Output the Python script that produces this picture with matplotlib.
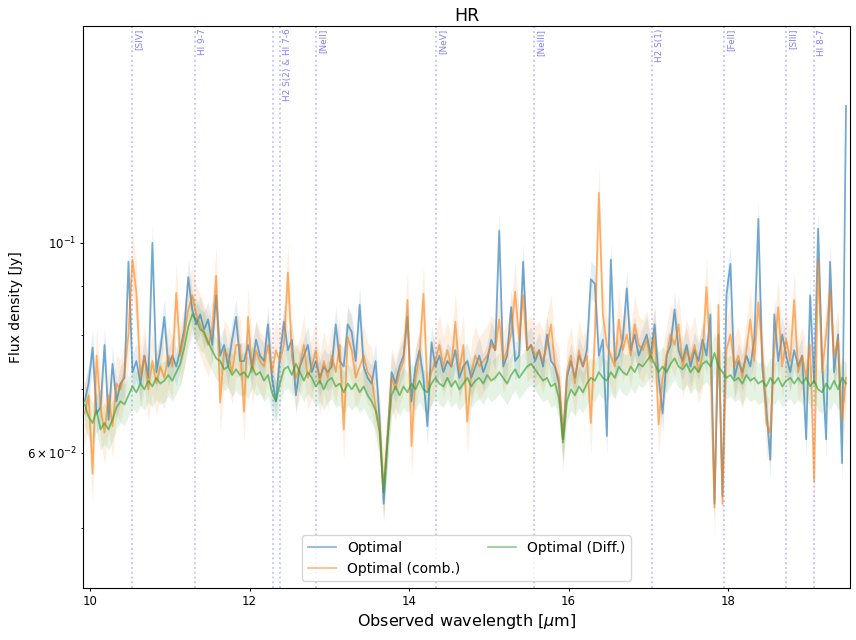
import numpy as np
import matplotlib
matplotlib.use("Agg")
import matplotlib.pyplot as plt

# ---------------- data ----------------
wave_start = 9.93   # micron
wave_step = 0.05
n_pts = 192

# Flux densities in mJy (x1e-3 Jy)
flux_opt = [
    68, 71, 77.5, 66, 67, 78, 65, 74.5, 68, 71, 72, 95.5, 73, 75, 71, 76, 72, 100, 73, 77,
    83.5, 74, 76, 74, 77, 81, 92, 85, 82, 84, 81, 83, 78, 88, 76, 78, 74, 79, 83.5, 75,
    75, 78, 74, 79, 76, 75, 82, 72, 68, 76, 82.5, 77, 79, 69, 74, 76, 78, 73, 75, 72,
    74, 73, 74, 82, 75, 74, 82, 80.5, 75, 86, 74, 72, 71, 75, 65, 53, 62, 73, 71, 74,
    76, 83.5, 68, 74, 77, 72, 64, 78.5, 74, 76, 73, 75, 74, 77, 72, 74, 75, 72, 74, 76,
    73, 75, 79, 77, 103, 74, 76, 85.5, 75, 76, 95.5, 77, 78, 75, 77, 74, 80, 75, 74, 71,
    62, 72, 75, 72, 76, 74, 77, 91.5, 90.5, 76, 79, 62.5, 96, 75, 76, 79, 89.5, 77, 80, 76,
    78, 80, 76, 82, 72, 66, 76, 78, 85, 77, 75, 78, 74, 77, 75, 79, 76, 84, 53, 80,
    54, 88, 95, 72, 75, 73, 76, 74, 79, 106, 74, 67, 59, 84, 75, 80, 76, 73, 77, 74,
    76, 62, 88, 71, 103.5, 75, 62, 95.5, 73, 80, 58.5, 139.5,
]
flux_comb = [
    66, 69, 57, 76, 67, 63, 69, 64, 71, 70, 73, 80, 96, 88.5, 72, 76, 70, 75, 71, 74,
    72, 76, 74, 88.5, 76, 80, 85, 88, 84, 82, 80, 78, 81, 92.3, 67.8, 77, 76, 73, 78, 78,
    66.3, 83.5, 73, 77, 75, 74, 78, 73, 77, 75, 78, 93, 76, 72, 74, 78, 72, 74, 77, 71,
    75, 72, 76, 73, 78, 63.5, 79.5, 77, 72, 74, 76, 73, 72, 67, 64, 55, 63, 72, 70, 73,
    75, 87, 61, 72, 76, 88.3, 70, 73, 75, 78, 74, 77, 74, 82.5, 73, 78, 64.7, 73, 76, 74,
    75, 76, 78, 77, 83, 75, 77, 80, 88.8, 79, 88, 77, 78, 76, 77, 75, 78, 82, 74, 72,
    62, 73, 76, 71, 77, 74, 76, 64.5, 80, 113, 84, 78, 76, 74, 83, 77, 80, 76, 82, 78,
    77, 79, 75, 80, 64.3, 72, 76, 80, 78, 82, 74, 77, 75, 78, 73, 76, 89.8, 75, 52.5, 86,
    53, 77, 80, 74, 76, 72, 77, 83, 75, 86.5, 77, 64.5, 63, 77, 85.5, 74, 79, 75, 87, 73,
    76, 72, 78, 56, 96, 73, 80, 89, 76, 79, 65, 72,
]
flux_diff = [
    67.5, 65.5, 64.5, 66.5, 63.5, 64.5, 63.5, 65, 67, 68, 67.5, 69, 70.5, 69.5, 71, 70, 71.5, 70.5, 72, 71,
    71.5, 72.5, 71.5, 73, 74.5, 77.5, 81.5, 84, 83, 81, 80.5, 78.5, 77, 75.5, 75, 73.5, 74, 72.5, 73.5, 72.5,
    73, 72, 74, 72.5, 73, 71.5, 72.5, 69.5, 68, 71, 73.5, 74, 72.5, 74.5, 73, 71.5, 73, 72, 70.5, 71.5,
    70, 71.5, 72, 70.5, 71, 69.5, 71, 70, 71, 69.5, 70.5, 69, 68, 66.5, 63, 54.5, 62, 69, 70.5, 69,
    70.5, 69.5, 71, 70, 71.5, 70, 69.5, 71, 72, 71, 70.5, 72, 70.5, 71.5, 70, 71, 72, 70.5, 71.5, 72,
    71, 72.5, 71.5, 72, 73, 72, 71, 72.5, 73.5, 72, 73, 74, 74.5, 73.5, 72.5, 71.5, 72, 70.5, 71, 68.5,
    61.5, 68, 70, 69, 70.5, 69.5, 71, 72, 71.5, 73, 72, 71.5, 73, 72, 74, 73, 72.5, 74, 73, 74.5,
    74, 75, 76, 74.5, 73, 74, 73, 74.5, 75.5, 74, 73.5, 74.5, 73, 74, 73, 74.5, 75, 74, 76.5, 74,
    73, 72, 72.5, 71.5, 72, 71, 72.5, 71.5, 72, 71, 71.5, 70.5, 72, 71, 72, 70.5, 71.5, 72, 71, 72,
    71, 72, 70.5, 71.5, 70, 69.5, 71, 70, 71.5, 70, 72, 71,
]
# relative 1-sigma uncertainties
err_frac_opt = 0.045
err_frac_comb = 0.075
err_frac_diff = 0.05

series_labels = ["Optimal", "Optimal (comb.)", "Optimal (Diff.)"]
series_colors = ["C0", "C1", "C2"]

line_names = ["[SIV]", "HI 9-7", "", "H2 S(2) & HI 7-6", "[NeII]", "[NeV]",
              "[NeIII]", "H2 S(1)", "[FeII]", "[SIII]", "HI 8-7"]
line_rest = [10.511, 11.309, 12.279, 12.372, 12.814, 14.322,
             15.555, 17.035, 17.936, 18.713, 19.062]
redshift = 0.001

title = "HR"
xlabel = r"Observed wavelength [$\mu$m]"
ylabel = "Flux density [Jy]"

# ---------------- plot ----------------
wave = wave_start + wave_step * np.arange(n_pts)

fig = plt.figure(figsize=(8.56, 6.4), dpi=100)
ax = fig.add_axes([83 / 856, 1 - 588 / 640, (850 - 83) / 856, (588 - 26) / 640])

all_series = [
    (np.array(flux_opt) * 1e-3, err_frac_opt),
    (np.array(flux_comb) * 1e-3, err_frac_comb),
    (np.array(flux_diff) * 1e-3, err_frac_diff),
]
for k, ((f, ef), lab, col) in enumerate(zip(all_series, series_labels, series_colors)):
    e = f * ef
    ax.fill_between(wave, f - e, f + e, color=col, alpha=0.12, lw=0, zorder=1 + k)
    ax.plot(wave, f, color=col, alpha=0.6, lw=1.3, label=lab, zorder=4 + k)

ax.set_yscale("log")
ax.set_xlim(9.91, 19.53)
ax.set_ylim(0.04317, 0.1695)

for name, lam in zip(line_names, line_rest):
    lo = lam * (1 + redshift)
    ax.axvline(lo, color="b", alpha=0.25, ls=":", lw=1.3, zorder=0)
    if name:
        ax.text(lo + 0.03, 0.995, name, transform=ax.get_xaxis_transform(),
                rotation=90, va="top", ha="left", fontsize=6.4,
                color="b", alpha=0.5)

ax.set_title(title, fontsize=12.5, pad=3.6)
ax.set_xlabel(xlabel, fontsize=11.5, labelpad=2.9)
ax.set_ylabel(ylabel, fontsize=10, labelpad=2.9)
ax.tick_params(axis="both", which="major", labelsize=8.5, length=2.5, pad=2.5)
ax.tick_params(axis="both", which="minor", labelsize=8.5, length=1.5, pad=2.5)

leg = ax.legend(loc="lower center", ncol=2, fontsize=10)
for lh in leg.get_lines():
    lh.set_alpha(0.5)

fig.savefig("out.png", dpi=100)
